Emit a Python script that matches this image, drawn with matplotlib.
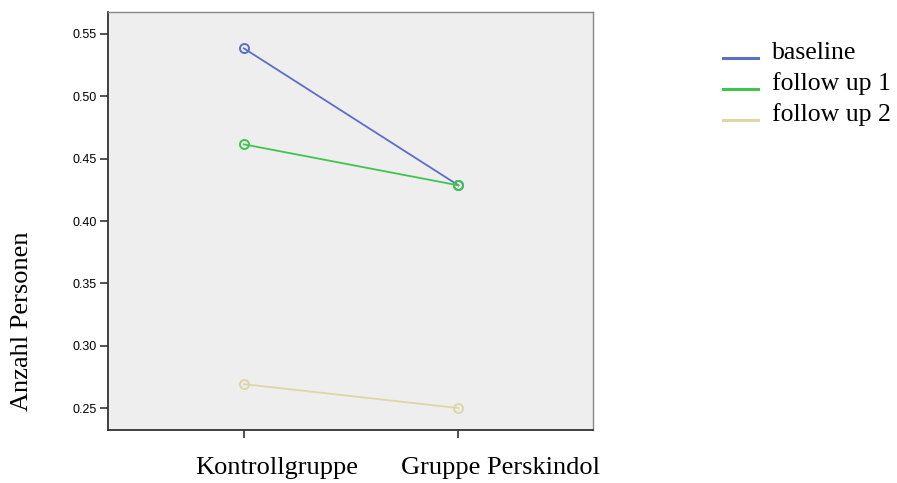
import matplotlib
matplotlib.use("Agg")
import matplotlib.pyplot as plt
from matplotlib.transforms import ScaledTranslation

groups = ["Kontrollgruppe", "Gruppe Perskindol"]
baseline = [0.5385, 0.4286]
follow_up_1 = [0.4615, 0.4286]
follow_up_2 = [0.2692, 0.2500]
series = ["baseline", "follow up 1", "follow up 2"]
colors = ["#5b6fc6", "#3fc54e", "#dcd7a4"]
yticks = [0.25, 0.30, 0.35, 0.40, 0.45, 0.50, 0.55]

SERIF = ["Liberation Serif", "DejaVu Serif"]
SANS = ["Liberation Sans", "DejaVu Sans"]

fig = plt.figure(figsize=(8.97, 4.83), dpi=100)
ax = fig.add_axes([0.1204, 0.1097, 0.5407, 0.8654])
ax.set_facecolor("#eeeeee")

x = list(range(len(groups)))
for vals, lab, c in zip([baseline, follow_up_1, follow_up_2], series, colors):
    ax.plot(x, vals, color=c, lw=1.3, marker="o", ms=6.5, mfc="none", mec=c, mew=1.4, label=lab)

ax.set_xlim(-0.633, 1.627)
ax.set_ylim(0.2324, 0.5676)
ax.set_xticks(x)
ax.set_xticklabels([])
# category labels sit a bit right of their ticks in the original
label_shift = [24, 30]  # points
for xi, g, dx in zip(x, groups, label_shift):
    ax.annotate(g, xy=(xi, 0), xycoords=ax.get_xaxis_transform(),
                xytext=(dx, -19.5), textcoords="offset points",
                ha="center", va="top", fontsize=19, family=SERIF)
ax.set_yticks(yticks)
ax.set_yticklabels([f"{v:.2f}" for v in yticks], fontsize=9, family=SANS)
ax.tick_params(axis="y", length=6, width=1.2, color="#333333", pad=2)
ax.tick_params(axis="x", length=6, width=1.2, color="#333333")

for s in ["left", "bottom"]:
    ax.spines[s].set_color("#333333")
    ax.spines[s].set_linewidth(1.3)
for s in ["top", "right"]:
    ax.spines[s].set_color("#888888")
    ax.spines[s].set_linewidth(1.0)

ax.set_ylabel("Anzahl Personen", fontsize=19, family=SERIF)
ax.yaxis.set_label_coords(-0.154, 0.26)

leg = fig.legend(loc="upper left", bbox_to_anchor=(0.780, 0.962), frameon=False,
                 prop={"family": SERIF, "size": 18.5}, handlelength=1.36, handletextpad=0.54,
                 labelspacing=0.31)
for ln in leg.get_lines():
    ln.set_marker("")
    ln.set_linewidth(2.2)
    ln.set_transform(ln.get_transform() + ScaledTranslation(0, -0.075, fig.dpi_scale_trans))

fig.savefig("out.png", dpi=100)
